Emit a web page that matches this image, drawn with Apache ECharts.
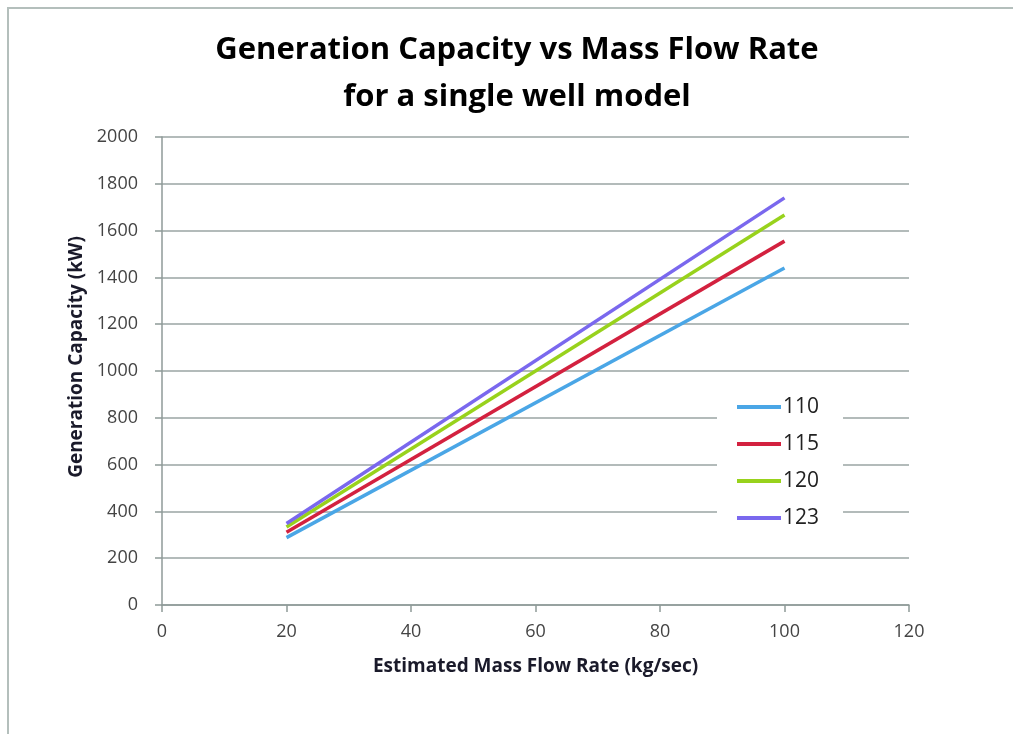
<!DOCTYPE html>
<html>
<head>
<meta charset="utf-8">
<script src="https://cdn.jsdelivr.net/npm/echarts@6/dist/echarts.min.js"></script>
<style>
html,body{margin:0;padding:0;background:#fff;}
#c{width:1013px;height:734px;}
</style>
</head>
<body>
<div id="c"></div>
<script>
const massFlow = [20, 100];
const seriesNames = ['110', '115', '120', '123'];
const values110 = [288, 1440];
const values115 = [311, 1555];
const values120 = [333, 1667];
const values123 = [348, 1740];
const xTicks = [0, 20, 40, 60, 80, 100, 120];
const yTicks = [0, 200, 400, 600, 800, 1000, 1200, 1400, 1600, 1800, 2000];

const allValues = [values110, values115, values120, values123];
const colors = ['#4aa6e6', '#d3213f', '#98d21c', '#7a68ee'];
const FONT = '"Open Sans", Lato, sans-serif';

const chart = echarts.init(document.getElementById('c'), null, {renderer: 'canvas'});
chart.setOption({
  animation: false,
  backgroundColor: '#fff',
  graphic: [{
    type: 'polyline',
    shape: {points: [[8, 734], [8, 8], [1013, 8]]},
    style: {stroke: '#b4bfbc', lineWidth: 2, fill: null},
    silent: true
  }],
  title: {
    text: 'Generation Capacity vs Mass Flow Rate\nfor a single well model',
    left: 512, textAlign: 'center', top: 22,
    textStyle: {fontFamily: FONT, fontWeight: 'bold', fontSize: 31, color: '#000', lineHeight: 47}
  },
  legend: {
    orient: 'vertical',
    left: 717, top: 390,
    padding: [6, 24, 6, 20],
    backgroundColor: '#fff',
    icon: 'rect',
    itemWidth: 44, itemHeight: 4, itemGap: 15,
    data: seriesNames,
    textStyle: {fontFamily: FONT, fontSize: 21, lineHeight: 22, color: '#222', padding: [0, 0, 0, -3]}
  },
  grid: {left: 162, right: 104, top: 137, bottom: 129, containLabel: false},
  xAxis: {
    type: 'value', min: xTicks[0], max: xTicks[xTicks.length - 1], interval: 20,
    name: 'Estimated Mass Flow Rate (kg/sec)', nameLocation: 'middle', nameGap: 52,
    nameTextStyle: {fontFamily: FONT, fontWeight: 'bold', fontSize: 19, color: '#1a1a2a'},
    axisLine: {show: true, lineStyle: {color: '#8f9a98', width: 1.5}},
    axisTick: {show: true, inside: false, length: 7, lineStyle: {color: '#8f9a98', width: 1.5}},
    axisLabel: {fontFamily: FONT, fontSize: 18, color: '#444', margin: 18, formatter: v => String(v)},
    splitLine: {show: false}
  },
  yAxis: {
    type: 'value', min: yTicks[0], max: yTicks[yTicks.length - 1], interval: 200,
    name: 'Generation Capacity (kW)', nameLocation: 'middle', nameGap: 74, nameRotate: 90,
    nameTextStyle: {fontFamily: FONT, fontWeight: 'bold', fontSize: 19, color: '#1a1a2a', padding: [0, 0, 0, 28]},
    axisLine: {show: true, lineStyle: {color: '#8f9a98', width: 1.5}},
    axisTick: {show: true, inside: false, length: 7, lineStyle: {color: '#8f9a98', width: 1.5}},
    axisLabel: {fontFamily: FONT, fontSize: 18, color: '#444', margin: 24, formatter: v => String(v)},
    splitLine: {show: true, lineStyle: {color: '#9aa5a3', width: 1.5}}
  },
  series: seriesNames.map((n, i) => ({
    name: n, type: 'line', symbol: 'none', z: 3,
    lineStyle: {color: colors[i], width: 3.5},
    itemStyle: {color: colors[i]},
    data: massFlow.map((x, j) => [x, allValues[i][j]])
  }))
});
</script>
</body>
</html>
